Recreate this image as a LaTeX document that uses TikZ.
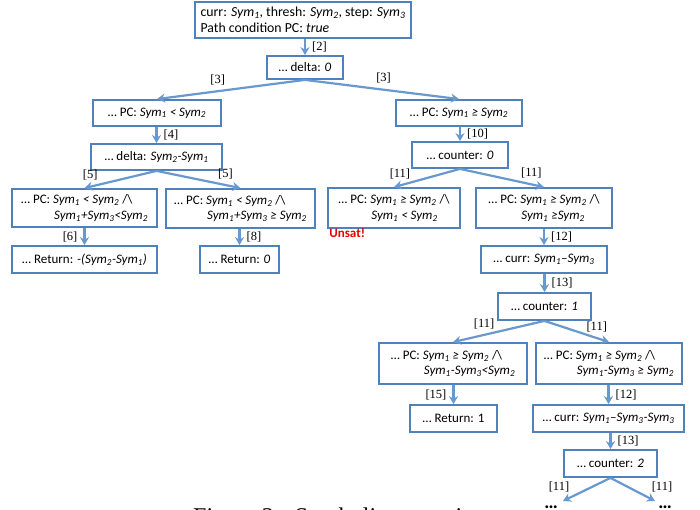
\documentclass[tikz,border=0pt]{standalone}
\usepackage{fontspec}
\setmainfont{Carlito}
\newfontfamily\timesfont{Liberation Serif}
\usetikzlibrary{arrows.meta}
\definecolor{boxblue}{RGB}{79,129,189}
\definecolor{arrowblue}{RGB}{104,152,208}
\definecolor{unsatred}{RGB}{230,0,0}
\newcommand{\sy}[1]{\textit{Sym\textsubscript{#1}}}
\newcommand{\andsym}{/\textbackslash}
\newcommand{\boxfont}{\fontsize{13}{15.5}\selectfont}
\newcommand{\topfont}{\fontsize{13.8}{16.5}\selectfont}
\newcommand{\lblfont}{\timesfont\fontsize{12.5}{14}\selectfont}
\newcommand{\capfont}{\timesfont\fontsize{24}{28}\selectfont}

\begin{document}
\begin{tikzpicture}[x=1pt, y=-1pt,
  box/.style={draw=boxblue, line width=1.8pt, align=left, inner sep=2pt, font=\boxfont},
  arr/.style={draw=arrowblue, line width=2.2pt, -{Stealth[length=8pt,width=9pt]}},
  lbl/.style={font=\lblfont, inner sep=1pt}]
\useasboundingbox (0,0) rectangle (700,510);
\clip (0,0) rectangle (700,510);
% caption, cut off by the page
\node[font=\capfont, anchor=base west, inner sep=0pt] (caption) at (193,524) {Figure 2.\hspace{15pt}Symbolic execution t};
% boxes
\node[box, font=\topfont, minimum width=216pt, minimum height=36pt] (init) at (303,20) {curr: \sy1, thresh: \sy2, step: \sy3\\Path condition PC: \textit{true}};
\node[box, minimum width=76pt, minimum height=23pt] (delta0) at (305,67.5) {… delta: \textit{0}};
\node[box, minimum width=128pt, minimum height=26pt] (pcless) at (157,113) {… PC: \textit{Sym\textsubscript{1} < Sym\textsubscript{2}}};
\node[box, minimum width=126pt, minimum height=26pt] (pcgeq) at (459,113) {… PC: \textit{Sym\textsubscript{1} ≥ Sym\textsubscript{2}}};
\node[box, minimum width=131pt, minimum height=26pt] (deltadiff) at (156.5,157) {… delta: \textit{Sym\textsubscript{2}-Sym\textsubscript{1}}};
\node[box, minimum width=96pt, minimum height=26pt] (count0) at (460,155) {… counter: \textit{0}};
\node[box, minimum width=145pt, minimum height=38pt] (pcsmall) at (84.5,208) {… PC: \textit{Sym\textsubscript{1} < Sym\textsubscript{2}} \andsym\\\hspace*{33pt}\textit{Sym\textsubscript{1}+Sym\textsubscript{3}<Sym\textsubscript{2}}};
\node[box, minimum width=149pt, minimum height=39pt] (pcbig) at (240.5,208.5) {… PC: \textit{Sym\textsubscript{1} < Sym\textsubscript{2}} \andsym\\\hspace*{33pt}\textit{Sym\textsubscript{1}+Sym\textsubscript{3} ≥ Sym\textsubscript{2}}};
\node[box, minimum width=132pt, minimum height=40pt] (unsat) at (394,208) {… PC: \textit{Sym\textsubscript{1} ≥ Sym\textsubscript{2}} \andsym\\\hspace*{33pt}\textit{Sym\textsubscript{1} < Sym\textsubscript{2}}};
\node[box, minimum width=136pt, minimum height=40pt] (pcsat) at (544,208) {… PC: \textit{Sym\textsubscript{1} ≥ Sym\textsubscript{2}} \andsym\\\hspace*{33pt}\textit{Sym\textsubscript{1} ≥Sym\textsubscript{2}}};
\node[box, minimum width=145pt, minimum height=27pt] (retneg) at (84.5,259.5) {… Return: \textit{-(Sym\textsubscript{2}-Sym\textsubscript{1})}};
\node[box, minimum width=79pt, minimum height=27pt] (retzero) at (239.5,259.5) {… Return: \textit{0}};
\node[box, minimum width=126pt, minimum height=27pt] (currone) at (544,259.5) {… curr: \textit{Sym\textsubscript{1}–Sym\textsubscript{3}}};
\node[box, minimum width=93pt, minimum height=27pt] (count1) at (544.5,306.5) {… counter: \textit{1}};
\node[box, minimum width=148pt, minimum height=41pt] (pcstop) at (453,363.5) {… PC: \textit{Sym\textsubscript{1} ≥ Sym\textsubscript{2}} \andsym\\\hspace*{33pt}\textit{Sym\textsubscript{1}-Sym\textsubscript{3}<Sym\textsubscript{2}}};
\node[box, minimum width=146pt, minimum height=41pt] (pcloop) at (609,363.5) {… PC: \textit{Sym\textsubscript{1} ≥ Sym\textsubscript{2}} \andsym\\\hspace*{33pt}\textit{Sym\textsubscript{1}-Sym\textsubscript{3} ≥ Sym\textsubscript{2}}};
\node[box, minimum width=87pt, minimum height=27pt] (retone) at (453.5,418.5) {… Return: 1};
\node[box, minimum width=151pt, minimum height=27pt] (currtwo) at (608.5,418.5) {… curr: \textit{Sym\textsubscript{1}–Sym\textsubscript{3}-Sym\textsubscript{3}}};
\node[box, minimum width=93pt, minimum height=27pt] (count2) at (610.5,463.5) {… counter: \textit{2}};
\node[font=\bfseries\color{unsatred}\fontsize{13}{14}\selectfont, anchor=north west, inner sep=0pt] (unsatmsg) at ([xshift=2pt, yshift=0pt]unsat.south west) {Unsat!};
\node[font=\bfseries\fontsize{19}{19}\selectfont, inner sep=0pt] (moreleft) at (551,507) {…};
\node[font=\bfseries\fontsize{19}{19}\selectfont, inner sep=0pt] (moreright) at (665,507) {…};
\coordinate (endleft) at (563,501);
\coordinate (endright) at (655,501);
% connectors
\draw[arr] (delta0.north |- init.south) -- node[lbl, right=5pt] {[2]} (delta0.north);
\draw[arr] (delta0.south) -- node[lbl, above=4pt, pos=0.59] {[3]} (pcless.north);
\draw[arr] (delta0.south) -- node[lbl, above=4pt, pos=0.51] {[3]} (pcgeq.north);
\draw[arr] (deltadiff.north |- pcless.south) -- node[lbl, right=5pt] {[4]} (deltadiff.north);
\draw[arr] (deltadiff.south) -- node[lbl, above=4pt, pos=0.92] {[5]} (pcsmall.north);
\draw[arr] (deltadiff.south) -- node[lbl, above=4pt, pos=0.82] {[5]} (pcbig.north);
\draw[arr] (retneg.north |- pcsmall.south) -- node[lbl, left=5pt] {[6]} (retneg.north);
\draw[arr] (retzero.north |- pcbig.south) -- node[lbl, right=5pt] {[8]} (retzero.north);
\draw[arr] (count0.north |- pcgeq.south) -- node[lbl, right=5pt] {[10]} (count0.north);
\draw[arr] (count0.south) -- node[lbl, above=4pt, pos=0.91] {[11]} (unsat.north);
\draw[arr] (count0.south) -- node[lbl, above=4pt, pos=0.85] {[11]} (pcsat.north);
\draw[arr] (currone.north |- pcsat.south) -- node[lbl, right=5pt] {[12]} (currone.north);
\draw[arr] (count1.north |- currone.south) -- node[lbl, right=5pt] {[13]} (count1.north);
\draw[arr] (count1.south) -- node[lbl, above=4pt, pos=0.66] {[11]} (pcstop.north);
\draw[arr] (count1.south) -- node[lbl, above=4pt, pos=0.81] {[11]} (pcloop.north);
\draw[arr] (retone.north |- pcstop.south) -- node[lbl, left=5pt] {[15]} (retone.north);
\draw[arr] (currtwo.north |- pcloop.south) -- node[lbl, right=5pt] {[12]} (currtwo.north);
\draw[arr] (count2.north |- currtwo.south) -- node[lbl, right=5pt] {[13]} (count2.north);
\draw[arr] (count2.south) -- node[lbl, above=7pt, pos=1, xshift=-4pt] {[11]} (endleft);
\draw[arr] (count2.south) -- node[lbl, above=7pt, pos=1, xshift=7pt] {[11]} (endright);
\end{tikzpicture}
\end{document}
